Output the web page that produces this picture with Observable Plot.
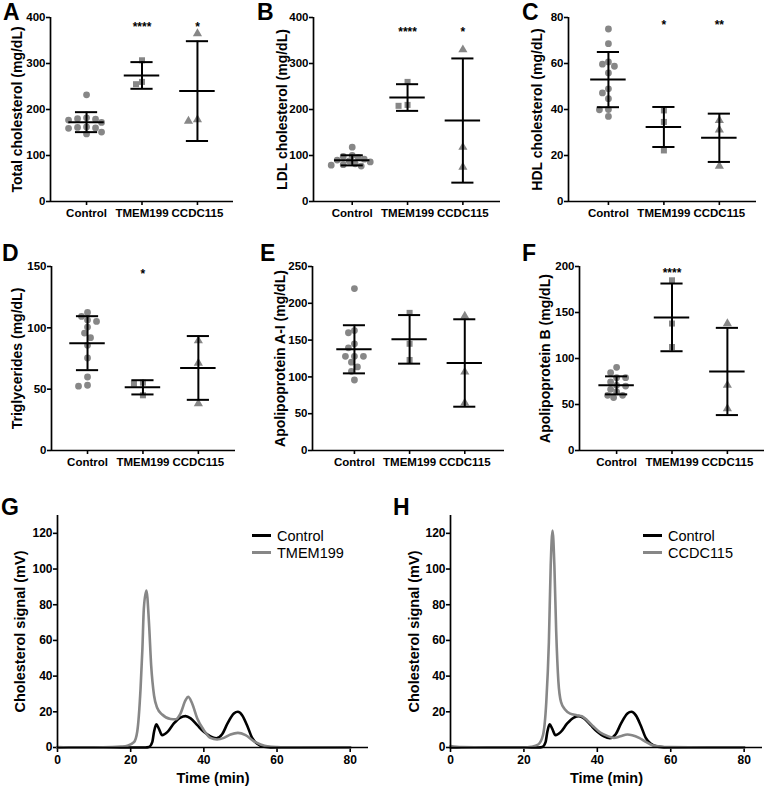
<!DOCTYPE html>
<html><head><meta charset="utf-8">
<script src="https://cdn.jsdelivr.net/npm/d3@7"></script>
<script src="https://cdn.jsdelivr.net/npm/@observablehq/plot@0.6"></script>
<style>
body{margin:0;background:#fff;font-family:'Liberation Sans',Arial,Helvetica,sans-serif;}
#page{position:relative;width:765px;height:787px;overflow:hidden;background:#fff;}
.panel{position:absolute;}
.letter{position:absolute;font-weight:bold;font-size:23px;line-height:23px;color:#000;}
.legtext{position:absolute;font-size:14.5px;line-height:14.5px;color:#000;white-space:nowrap;}
.legline{position:absolute;width:19px;height:3px;}
svg g[aria-label$="-axis tick"] path{stroke-width:1.6px;}
svg g.tick line{stroke-width:1.6px;}
</style>
</head><body><div id="page"></div>
<script>
// ---------------- DATA ----------------
const groups = ["Control", "TMEM199", "CCDC115"];

// A: Total cholesterol (mg/dL)
const totalControl = [232, 182, 180, 179, 177, 172, 162, 161, 160, 159, 151, 147];
const totalTMEM199 = [307, 260, 255];
const totalCCDC115 = [365, 178, 175];
const totalMean = [172.5, 274, 240];
const totalSD = [21.7, 29, 108.5];
const totalSig = ["", "****", "*"];
const totalSigY = 378;

// B: LDL cholesterol (mg/dL)
const ldlControl = [118, 100, 98, 96, 92, 90, 88, 86, 82, 80, 79, 77];
const ldlTMEM199 = [260, 210, 208];
const ldlCCDC115 = [330, 118, 75];
const ldlMean = [89.5, 226, 176];
const ldlSD = [11, 29, 135];
const ldlSig = ["", "****", "*"];
const ldlSigY = 368;

// C: HDL cholesterol (mg/dL)
const hdlControl = [75, 68.6, 60.7, 59.7, 58.8, 55.9, 49, 47.2, 44.7, 40, 39.9, 37];
const hdlTMEM199 = [39.6, 34.6, 22.2];
const hdlCCDC115 = [35.3, 31.2, 15.4];
const hdlMean = [53, 32.4, 27.7];
const hdlSD = [12, 8.7, 10.5];
const hdlSig = ["", "*", "**"];
const hdlSigY = 76.5;

// D: Triglycerides (mg/dL)
const tgControl = [112.6, 109.3, 106.3, 105.2, 100.6, 95.7, 92, 85.7, 75.4, 59.9, 53.2, 52.4];
const tgTMEM199 = [55.3, 54.5, 45];
const tgCCDC115 = [89.5, 71.3, 38.2];
const tgMean = [87.5, 51.5, 67.3];
const tgSD = [22, 5.8, 26];
const tgSig = ["", "*", ""];
const tgSigY = 144;

// E: Apolipoprotein A-I (mg/dL)
const apoaControl = [220, 163, 160, 145, 139.5, 128, 128, 128, 120, 113.5, 107.6, 95.8];
const apoaTMEM199 = [187, 145, 123];
const apoaCCDC115 = [182.6, 106.7, 64.6];
const apoaMean = [137.5, 151, 118.9];
const apoaSD = [32.7, 33, 59.4];
const apoaSig = ["", "", ""];
const apoaSigY = 240;

// F: Apolipoprotein B (mg/dL)
const apobControl = [90.4, 84.6, 79.2, 79.2, 74.5, 70.8, 70, 66.5, 63.7, 60, 60, 57.5];
const apobTMEM199 = [185, 138, 112.5];
const apobCCDC115 = [138, 71, 45.6];
const apobMean = [70.8, 144.7, 85.9];
const apobSD = [9.8, 36.8, 47.4];
const apobSig = ["", "****", ""];
const apobSigY = 193;

// G/H: FPLC cholesterol profiles, [time (min), signal (mV)]
const fplcControl = [[0,0],[10,0],[20,0],[24,0],[25,0.3],[25.9,3],[26.4,9],[27,13],[27.7,10.6],[28.6,6.9],[30,8.6],[31.8,13.5],[33.6,16.8],[35,17.6],[36.4,16.3],[38.2,12.5],[40,8.8],[41.8,6.2],[43.4,5.2],[45,7.4],[46.4,13.2],[48.2,19],[49.3,20],[50.5,18],[51.8,12.5],[53.2,5.4],[54.5,2.2],[56.4,0.5],[60,0],[70,0],[80,0]];
const fplcTMEM199 = [[0,0.3],[5,0],[10,0],[15,0.2],[17.3,0.5],[19.1,1],[20.9,3],[21.8,9],[22.7,33],[23.2,55],[23.6,78],[24.3,88],[25,70],[25.6,46],[26.4,29],[27.3,22],[28.6,18.5],[30.9,16],[32.3,15.8],[33.6,19],[35,26.5],[35.7,28.4],[36.8,24.7],[38.2,16.3],[40,9.7],[41.8,5.4],[43.6,4.5],[45.5,5.4],[47.3,7.3],[49.3,8.2],[51.4,6.9],[53.6,3.6],[55.5,1.7],[57.7,0.6],[60,0.3],[65,0.1],[80,0]];
const fplcCCDC115 = [[0,0.8],[3,0.2],[10,0],[20,0],[22,0.4],[23.9,1.7],[25.2,7],[26.1,25.6],[26.8,59],[27.3,102],[27.8,121.6],[28.3,102],[28.8,64.7],[29.4,36.8],[30.1,25.6],[31.2,21.3],[32.6,19],[34.4,18.1],[35.8,17.5],[37.2,15.3],[39,11.6],[40.8,8.4],[42.7,6.5],[44.5,5.4],[46.3,6.3],[48.2,7.3],[49.5,6.9],[51.4,5.4],[53.2,3.2],[55,1.3],[56.9,0.6],[60,0.2],[70,0],[80,0]];

// ---------------- STYLE / LAYOUT ----------------
const FONT = "'Liberation Sans', Arial, Helvetica, sans-serif";
const GRAY = "#878787";
const BLACK = "#000";
const page = document.getElementById("page");

function place(node, left, top) {
  const div = document.createElement("div");
  div.className = "panel";
  div.style.left = left + "px";
  div.style.top = top + "px";
  div.appendChild(node);
  page.appendChild(div);
}
function letter(t, left, top) {
  const d = document.createElement("div");
  d.className = "letter"; d.textContent = t;
  d.style.left = left + "px"; d.style.top = top + "px";
  page.appendChild(d);
}

// beeswarm-like horizontal spreading (pixel offsets)
function swarm(values, pxPerY, step = 3, minDist = 6.2) {
  const placed = [];
  return values.map(v => {
    const py = v * pxPerY;
    for (let k = 0; k < 40; k++) {
      const cands = k === 0 ? [0] : [-k * step, k * step];
      for (const px of cands) {
        if (placed.every(p => Math.hypot(p.x - px, p.y - py) >= minDist)) {
          placed.push({x: px, y: py});
          return px;
        }
      }
    }
    return 0;
  });
}

function scatterPanel(cfg) {
  const L = cfg.layout;
  const frameH = L.height - L.mt - L.mb;
  const frameW = L.width - L.ml - L.mr;
  const pxPerX = frameW / (L.xdom[1] - L.xdom[0]);
  const pxPerY = frameH / cfg.ymax;
  const rows = [];
  cfg.values.forEach((vals, g) => {
    const offs = swarm(vals, pxPerY);
    vals.forEach((v, i) => rows.push({g, v, off: offs[i] / pxPerX}));
  });
  const stats = cfg.mean.map((m, g) => ({g, mean: m, sd: cfg.sd[g]}));
  const sigRows = cfg.sig.map((s, g) => ({g, s})).filter(d => d.s);
  const plot = Plot.plot({
    width: L.width, height: L.height,
    marginLeft: L.ml, marginRight: L.mr, marginTop: L.mt, marginBottom: L.mb,
    style: {fontFamily: FONT, fontSize: "11.5px", fontWeight: "bold", color: "#000", background: "transparent", overflow: "visible"},
    x: {type: "linear", domain: L.xdom, ticks: [0, 1, 2], tickFormat: i => groups[i], tickSize: 4, tickPadding: 3, label: null},
    y: {domain: [0, cfg.ymax], ticks: cfg.yticks, tickSize: 4, tickPadding: 1, label: null, tickFormat: d => String(d)},
    symbol: {domain: groups, range: ["circle", "square", "triangle"]},
    marks: [
      Plot.dot(rows, {x: d => d.g + d.off, y: "v", symbol: d => groups[d.g], r: 3.4, fill: GRAY, stroke: "none"}),
      Plot.ruleX(stats, {x: "g", y1: d => d.mean - d.sd, y2: d => d.mean + d.sd, stroke: BLACK, strokeWidth: 2}),
      Plot.ruleY(stats, {y: "mean", x1: d => d.g - 0.32, x2: d => d.g + 0.32, stroke: BLACK, strokeWidth: 2}),
      Plot.ruleY(stats, {y: d => d.mean + d.sd, x1: d => d.g - 0.2, x2: d => d.g + 0.2, stroke: BLACK, strokeWidth: 2}),
      Plot.ruleY(stats, {y: d => d.mean - d.sd, x1: d => d.g - 0.2, x2: d => d.g + 0.2, stroke: BLACK, strokeWidth: 2}),
      Plot.text(sigRows, {x: "g", y: () => cfg.sigY, text: "s", fontSize: 12, fontWeight: "bold", fill: BLACK}),
      Plot.ruleY([0], {stroke: BLACK, strokeWidth: 1.7}),
      Plot.ruleX([L.xdom[0]], {stroke: BLACK, strokeWidth: 1.7}),
      Plot.text([cfg.label], {text: d => d, frameAnchor: "left", textAnchor: "middle", lineAnchor: "middle", rotate: -90, dx: L.labelDx, fontSize: 14, fontWeight: "bold", fill: BLACK})
    ]
  });
  place(plot, L.left, L.top);
}

const row1 = {top: 0, height: 225, mt: 17, mb: 24};
const row2 = {top: 240, height: 234, mt: 26, mb: 24};

scatterPanel({values: [totalControl, totalTMEM199, totalCCDC115], mean: totalMean, sd: totalSD, sig: totalSig, sigY: totalSigY,
  ymax: 400, yticks: [0, 100, 200, 300, 400], label: "Total cholesterol (mg/dL)",
  layout: {...row1, left: 0, width: 245, ml: 50, mr: 12, xdom: [-0.65, 2.65], labelDx: -33}});
scatterPanel({values: [ldlControl, ldlTMEM199, ldlCCDC115], mean: ldlMean, sd: ldlSD, sig: ldlSig, sigY: ldlSigY,
  ymax: 400, yticks: [0, 100, 200, 300, 400], label: "LDL cholesterol (mg/dL)",
  layout: {...row1, left: 255, width: 255, ml: 58, mr: 10, xdom: [-0.70, 2.68], labelDx: -31}});
scatterPanel({values: [hdlControl, hdlTMEM199, hdlCCDC115], mean: hdlMean, sd: hdlSD, sig: hdlSig, sigY: hdlSigY,
  ymax: 80, yticks: [0, 20, 40, 60, 80], label: "HDL cholesterol (mg/dL)",
  layout: {...row1, left: 510, width: 255, ml: 58, mr: 9, xdom: [-0.72, 2.67], labelDx: -31}});
scatterPanel({values: [tgControl, tgTMEM199, tgCCDC115], mean: tgMean, sd: tgSD, sig: tgSig, sigY: tgSigY,
  ymax: 150, yticks: [0, 50, 100, 150], label: "Triglycerides (mg/dL)",
  layout: {...row2, left: 0, width: 245, ml: 51, mr: 10, xdom: [-0.65, 2.67], labelDx: -34}});
scatterPanel({values: [apoaControl, apoaTMEM199, apoaCCDC115], mean: apoaMean, sd: apoaSD, sig: apoaSig, sigY: apoaSigY,
  ymax: 250, yticks: [0, 50, 100, 150, 200, 250], label: "Apolipoprotein A-I (mg/dL)",
  layout: {...row2, left: 255, width: 255, ml: 57, mr: 6, xdom: [-0.76, 2.72], labelDx: -32}});
scatterPanel({values: [apobControl, apobTMEM199, apobCCDC115], mean: apobMean, sd: apobSD, sig: apobSig, sigY: apobSigY,
  ymax: 200, yticks: [0, 50, 100, 150, 200], label: "Apolipoprotein B (mg/dL)",
  layout: {...row2, left: 510, width: 255, ml: 69, mr: 1, xdom: [-0.67, 2.67], labelDx: -34}});

function fplcPanel(cfg) {
  const L = cfg.layout;
  const plot = Plot.plot({
    width: L.width, height: L.height,
    marginLeft: L.ml, marginRight: L.mr, marginTop: L.mt, marginBottom: L.mb,
    style: {fontFamily: FONT, fontSize: "12px", fontWeight: "bold", color: "#000", background: "transparent", overflow: "visible"},
    x: {domain: [0, 85], ticks: [0, 20, 40, 60, 80], tickSize: 5, tickPadding: 3, label: null, tickFormat: d => String(d)},
    y: {domain: [0, 130], ticks: [0, 20, 40, 60, 80, 100, 120], tickSize: 4, tickPadding: 1, label: null, tickFormat: d => String(d)},
    marks: [
      Plot.line(fplcControl, {x: d => d[0], y: d => d[1], stroke: BLACK, strokeWidth: 2.6, curve: "monotone-x"}),
      Plot.line(cfg.series, {x: d => d[0], y: d => d[1], stroke: GRAY, strokeWidth: 2.6, curve: "monotone-x"}),
      Plot.ruleY([0], {stroke: BLACK, strokeWidth: 1.7}),
      Plot.ruleX([0], {stroke: BLACK, strokeWidth: 1.7}),
      Plot.text(["Time (min)"], {text: d => d, frameAnchor: "bottom", textAnchor: "middle", lineAnchor: "middle", dy: 31, fontSize: 14.5, fontWeight: "bold", fill: BLACK}),
      Plot.text(["Cholesterol signal (mV)"], {text: d => d, frameAnchor: "left", textAnchor: "middle", lineAnchor: "middle", rotate: -90, dx: L.labelDx, fontSize: 14.5, fontWeight: "bold", fill: BLACK})
    ]
  });
  place(plot, L.left, L.top);
  // legend
  const items = [["Control", BLACK], [cfg.name, GRAY]];
  items.forEach(([name, color], i) => {
    const ln = document.createElement("div");
    ln.className = "legline"; ln.style.background = color;
    ln.style.left = cfg.legX + "px"; ln.style.top = (535 + i * 17 - 1) + "px";
    page.appendChild(ln);
    const tx = document.createElement("div");
    tx.className = "legtext"; tx.textContent = name;
    tx.style.left = (cfg.legX + 25) + "px"; tx.style.top = (529 + i * 17) + "px";
    page.appendChild(tx);
  });
}

fplcPanel({series: fplcTMEM199, name: "TMEM199", legX: 252,
  layout: {left: 0, top: 505, width: 380, height: 282, ml: 57, mr: 12, mt: 10, mb: 40, labelDx: -37}});
fplcPanel({series: fplcCCDC115, name: "CCDC115", legX: 643,
  layout: {left: 385, top: 505, width: 380, height: 282, ml: 65, mr: 3, mt: 10, mb: 40, labelDx: -36}});

letter("A", 3, 1); letter("B", 257, 1); letter("C", 522, 1);
letter("D", 2, 242); letter("E", 260, 242); letter("F", 522, 242);
letter("G", 1, 496); letter("H", 393, 496);
</script>
</body></html>
